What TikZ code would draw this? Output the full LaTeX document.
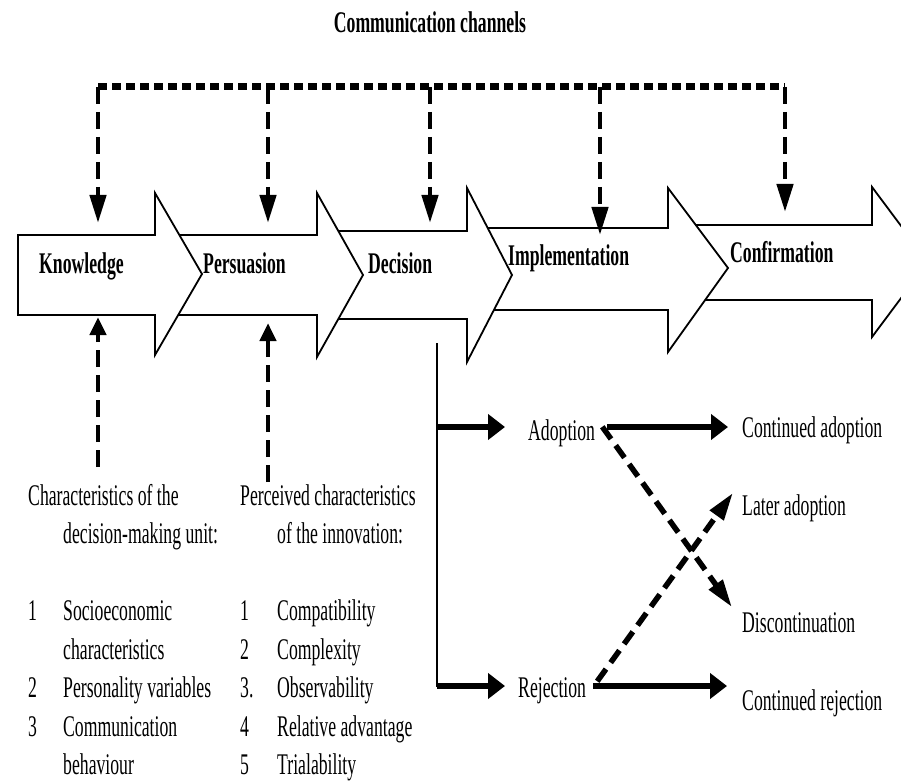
\documentclass[tikz,border=0pt]{standalone}
\usepackage{fontspec}
\setmainfont{Liberation Serif}[FakeStretch=0.59]
\usetikzlibrary{arrows.meta,calc}

\begin{document}
\begin{tikzpicture}[x=1pt,y=-1pt,
  font=\fontsize{30}{38.5}\selectfont,
  stage/.style={draw,line width=1.8pt,fill=white,line join=miter},
  stage label/.style={anchor=base west,inner sep=0pt,font=\fontsize{30}{38.5}\selectfont\bfseries},
  text label/.style={anchor=base west,inner sep=0pt},
  channel line/.style={line width=7pt,dash pattern=on 9pt off 5pt},
  channel/.style={line width=4.5pt,dash pattern=on 17pt off 8pt,-{Triangle[length=28pt,width=16pt]}},
  source/.style={line width=4.5pt,dash pattern=on 17pt off 8pt,-{Triangle[length=18pt,width=16pt]}},
  branch/.style={line width=2pt},
  go/.style={line width=6pt,-{Triangle[length=17pt,width=25pt]}},
  maybe/.style={line width=5.5pt,dash pattern=on 15pt off 8pt,-{Triangle[length=28pt,width=16pt]}}]

  \useasboundingbox (0,0) rectangle (901,783);
  \clip (0,0) rectangle (901,783);

  % stages, from right to left so each head lies on the next body
  \foreach \xl/\yt/\yb/\xh/\yht/\yhb/\xtip/\ytip in
    {668/225/300/872/187/337/928/262, 467/228/310/668/188/352/728/268,
     317/231/319/467/188/362/512/275, 155/235/315/317/193/357/363/275,
     18/235/315/155/193/355/202/274}
    \draw[stage] (\xl,\yt) -- (\xh,\yt) -- (\xh,\yht) -- (\xtip,\ytip)
      -- (\xh,\yhb) -- (\xh,\yb) -- (\xl,\yb) -- cycle;

  \node[stage label,anchor=base] (comm) at (430,33) {Communication channels};
  \node[stage label] (know) at (39,274) {Knowledge};
  \node[stage label] (pers) at (203,274) {Persuasion};
  \node[stage label] (dec) at (368,274) {Decision};
  \node[stage label] (impl) at (508,266) {Implementation};
  \node[stage label] (conf) at (730,263) {Confirmation};

  % communication channels
  \foreach \i/\x in {1/98,2/268,3/430,4/600,5/785}
    \coordinate (c\i) at (\x,87);
  \coordinate (k1) at (98,223);
  \coordinate (k2) at (268,223);
  \coordinate (k3) at (430,223);
  \coordinate (k4) at (600,235);
  \coordinate (k5) at (785,212);
  \draw[channel line] (c1) -- (c5);
  \foreach \i in {1,...,5}
    \draw[channel] (c\i) -- (k\i);

  % characteristics
  \node[text label] (unit) at (28,505) {\begin{tabular}[t]{@{}p{35pt}@{}l@{}}
    \multicolumn{2}{@{}l@{}}{Characteristics of the}\\
      & decision-making unit:\\
    \\
    1 & Socioeconomic\\
      & characteristics\\
    2 & Personality variables\\
    3 & Communication\\
      & behaviour
  \end{tabular}};
  \node[text label] (innov) at (240,505) {\begin{tabular}[t]{@{}p{37pt}@{}l@{}}
    \multicolumn{2}{@{}l@{}}{Perceived characteristics}\\
       & of the innovation:\\
    \\
    1  & Compatibility\\
    2  & Complexity\\
    3. & Observability\\
    4  & Relative advantage\\
    5  & Trialability
  \end{tabular}};
  \coordinate (s1) at (98,467);
  \coordinate (s2) at (268,482);
  \coordinate (t1) at (98,317);
  \coordinate (t2) at (268,323);
  \draw[source] (s1) -- (t1);
  \draw[source] (s2) -- (t2);

  % decision outcomes
  \node[text label] (adopt) at (528,440) {Adoption};
  \node[text label] (reject) at (518,697) {Rejection};
  \node[text label] (contad) at (742,437) {Continued adoption};
  \node[text label] (later) at (742,515) {Later adoption};
  \node[text label] (discont) at (742,632) {Discontinuation};
  \node[text label] (contrej) at (742,710) {Continued rejection};

  \coordinate (split) at (437,343);
  \coordinate (ya) at (437,427);
  \coordinate (yr) at (437,686);
  \draw[branch] (split) -- ([yshift=-1pt]yr);
  \draw[go,shorten >=23pt] (ya) -- (ya -| adopt.west);
  \draw[go,shorten >=13pt] (yr) -- (yr -| reject.west);
  \draw[go,shorten <=12pt,shorten >=14pt] (ya -| adopt.east) -- (ya -| contad.west);
  \draw[go,shorten <=7pt,shorten >=15pt] (yr -| reject.east) -- (yr -| contrej.west);
  \draw[maybe] ($(adopt.east)+(7,-6)$) -- ($(discont.west)+(-10,-15)$);
  \draw[maybe] ($(reject.east)+(11,-9)$) -- ($(later.west)+(-9,-15)$);
\end{tikzpicture}
\end{document}
